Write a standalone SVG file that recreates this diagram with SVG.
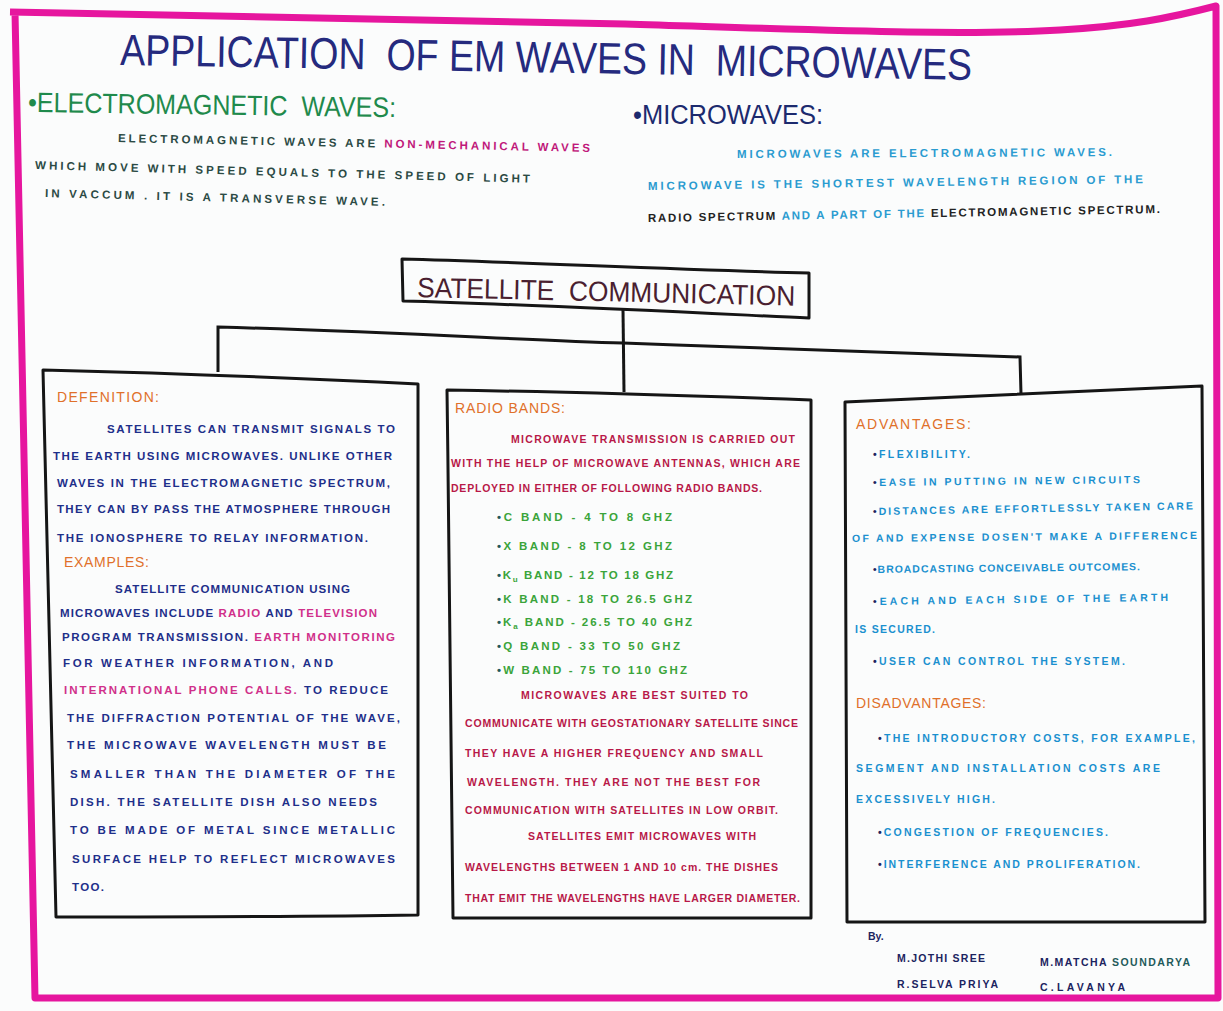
<svg xmlns="http://www.w3.org/2000/svg" width="1223" height="1011" viewBox="0 0 1223 1011">
<style>
text{font-family:"Liberation Sans","DejaVu Sans",sans-serif}
.b{font-size:11.5px;font-weight:bold}
.s{font-size:10.5px;font-weight:bold}
.h{font-size:14px;fill:#e0702a}
.box{fill:none;stroke:#151515;stroke-width:3;stroke-linejoin:round}
.con{fill:none;stroke:#151515;stroke-width:3}
.nv{fill:#1e2f8a}
.pk{fill:#d0308a}
.cr{fill:#b81848}
.gr{fill:#3aa43a}
.tl{fill:#1f5a5a}
.bl{fill:#1a90cf}
.dk{fill:#1c2460}
.mg{fill:#c0187a}
.em{fill:#2b4a44}
.mb{fill:#2a9bd0}
.k{fill:#222}
</style>
<rect width="1223" height="1011" fill="#fbfcfc"/>
<g id="border">
<path d="M10,12 C200,14 400,18 625,24 C820,30 960,36 1060,30 C1130,26 1170,18 1216,6 L1218,998 L35,998 C28,700 22,400 15,12" fill="none" stroke="#e6169e" stroke-width="7" stroke-linejoin="round"/>
</g>
<g id="title">
<text x="120" y="65" font-size="44" fill="#252a7e" textLength="852" lengthAdjust="spacingAndGlyphs" transform="rotate(1 120 65)" xml:space="preserve">APPLICATION  OF EM WAVES IN  MICROWAVES</text>
</g>
<g id="em-section">
<text x="28" y="112" font-size="28" fill="#1f8a4c" textLength="368" lengthAdjust="spacingAndGlyphs" transform="rotate(0.8 28 112)" xml:space="preserve">•ELECTROMAGNETIC  WAVES:</text>
<text class="b" x="118" y="142" textLength="472" transform="rotate(1.2 118 142)"><tspan class="em">ELECTROMAGNETIC WAVES ARE </tspan><tspan class="mg">NON-MECHANICAL WAVES</tspan></text>
<text class="b em" x="35" y="169" textLength="495" transform="rotate(1.6 35 169)">WHICH MOVE WITH SPEED EQUALS TO THE SPEED OF LIGHT</text>
<text class="b em" x="45" y="197" textLength="340" transform="rotate(1.5 45 197)">IN VACCUM . IT IS A TRANSVERSE WAVE.</text>
</g>
<g id="mw-section">
<text x="633" y="124" font-size="27" fill="#1c2a6e" textLength="190" lengthAdjust="spacingAndGlyphs">•MICROWAVES:</text>
<text class="b mb" x="737" y="158" textLength="375" transform="rotate(-0.3 737 158)">MICROWAVES ARE ELECTROMAGNETIC WAVES.</text>
<text class="b mb" x="648" y="190" textLength="495" transform="rotate(-0.8 648 190)">MICROWAVE IS THE SHORTEST WAVELENGTH REGION OF THE</text>
<text class="b" x="648" y="222" textLength="512" transform="rotate(-1 648 222)"><tspan class="k">RADIO SPECTRUM</tspan><tspan class="mb"> AND A PART OF THE </tspan><tspan class="k">ELECTROMAGNETIC SPECTRUM.</tspan></text>
</g>
<g id="connectors">
<path class="con" d="M623,310 L624,392"/>
<path class="con" d="M218,372 L218,327 C400,332 520,340 623,343 C760,348 900,352 1020,357 L1021,394"/>
</g>
<g id="sat-comm">
<path class="box" d="M402,259 C520,262 680,270 809,273 L809,318 C680,312 520,304 403,301 Z"/>
<text x="417" y="297" font-size="28" fill="#4a1f30" textLength="378" lengthAdjust="spacingAndGlyphs" transform="rotate(1.3 417 297)" xml:space="preserve">SATELLITE  COMMUNICATION</text>
</g>
<g id="box-definition">
<path class="box" d="M43,370 C160,373 300,378 418,384 L418,915 C300,917 150,917 56,917 C52,700 46,500 43,370 Z"/>
<text class="h" x="57" y="402" textLength="102">DEFENITION:</text>
<text class="b nv" x="107" y="433" textLength="288">SATELLITES CAN TRANSMIT SIGNALS TO</text>
<text class="b nv" x="53" y="460" textLength="339">THE EARTH USING MICROWAVES. UNLIKE OTHER</text>
<text class="b nv" x="57" y="487" textLength="333">WAVES IN THE ELECTROMAGNETIC SPECTRUM,</text>
<text class="b nv" x="57" y="513" textLength="333">THEY CAN BY PASS THE ATMOSPHERE THROUGH</text>
<text class="b nv" x="57" y="542" textLength="311">THE IONOSPHERE TO RELAY INFORMATION.</text>
<text class="h" x="64" y="567" textLength="85">EXAMPLES:</text>
<text class="b nv" x="115" y="593" textLength="235">SATELLITE COMMUNICATION USING</text>
<text class="b" x="60" y="617" textLength="317"><tspan class="nv">MICROWAVES INCLUDE </tspan><tspan class="pk">RADIO</tspan><tspan class="nv"> AND </tspan><tspan class="pk">TELEVISION</tspan></text>
<text class="b" x="62" y="641" textLength="333"><tspan class="nv">PROGRAM TRANSMISSION. </tspan><tspan class="pk">EARTH MONITORING</tspan></text>
<text class="b nv" x="63" y="667" textLength="270">FOR WEATHER INFORMATION, AND</text>
<text class="b" x="64" y="694" textLength="324"><tspan class="pk">INTERNATIONAL PHONE CALLS.</tspan><tspan class="nv"> TO REDUCE</tspan></text>
<text class="b nv" x="67" y="722" textLength="333">THE DIFFRACTION POTENTIAL OF THE WAVE,</text>
<text class="b nv" x="67" y="749" textLength="319">THE MICROWAVE WAVELENGTH MUST BE</text>
<text class="b nv" x="70" y="778" textLength="325">SMALLER THAN THE DIAMETER OF THE</text>
<text class="b nv" x="70" y="806" textLength="307">DISH. THE SATELLITE DISH ALSO NEEDS</text>
<text class="b nv" x="70" y="834" textLength="325">TO BE MADE OF METAL SINCE METALLIC</text>
<text class="b nv" x="72" y="863" textLength="323">SURFACE HELP TO REFLECT MICROWAVES</text>
<text class="b nv" x="72" y="891" textLength="32">TOO.</text>
</g>
<g id="box-radio-bands">
<path class="box" d="M447,390 C580,392 700,396 811,400 L811,918 C700,918 560,918 453,918 C452,700 449,550 447,390 Z"/>
<text class="h" x="455" y="413" textLength="110">RADIO BANDS:</text>
<text class="s cr" x="511" y="443" textLength="284">MICROWAVE TRANSMISSION IS CARRIED OUT</text>
<text class="s cr" x="451" y="467" textLength="349">WITH THE HELP OF MICROWAVE ANTENNAS, WHICH ARE</text>
<text class="s cr" x="451" y="492" textLength="311">DEPLOYED IN EITHER OF FOLLOWING RADIO BANDS.</text>
<text class="b" x="497" y="521" textLength="175"><tspan class="tl">•</tspan><tspan class="gr">C BAND - 4 TO 8 GHZ</tspan></text>
<text class="b" x="497" y="550" textLength="175"><tspan class="tl">•</tspan><tspan class="gr">X BAND - 8 TO 12 GHZ</tspan></text>
<text class="b" x="497" y="579" textLength="176"><tspan class="tl">•</tspan><tspan class="gr">K</tspan><tspan class="gr" font-size="8" dy="3">u</tspan><tspan class="gr" dy="-3"> BAND - 12 TO 18 GHZ</tspan></text>
<text class="b" x="497" y="603" textLength="195"><tspan class="tl">•</tspan><tspan class="gr">K BAND - 18 TO 26.5 GHZ</tspan></text>
<text class="b" x="497" y="626" textLength="195"><tspan class="tl">•</tspan><tspan class="gr">K</tspan><tspan class="gr" font-size="8" dy="3">a</tspan><tspan class="gr" dy="-3"> BAND - 26.5 TO 40 GHZ</tspan></text>
<text class="b" x="497" y="650" textLength="183"><tspan class="tl">•</tspan><tspan class="gr">Q BAND - 33 TO 50 GHZ</tspan></text>
<text class="b" x="497" y="674" textLength="190"><tspan class="tl">•</tspan><tspan class="gr">W BAND - 75 TO 110 GHZ</tspan></text>
<text class="s cr" x="521" y="699" textLength="227">MICROWAVES ARE BEST SUITED TO</text>
<text class="s cr" x="465" y="727" textLength="333">COMMUNICATE WITH GEOSTATIONARY SATELLITE SINCE</text>
<text class="s cr" x="465" y="757" textLength="298">THEY HAVE A HIGHER FREQUENCY AND SMALL</text>
<text class="s cr" x="467" y="786" textLength="293">WAVELENGTH. THEY ARE NOT THE BEST FOR</text>
<text class="s cr" x="465" y="814" textLength="313">COMMUNICATION WITH SATELLITES IN LOW ORBIT.</text>
<text class="s cr" x="528" y="840" textLength="228">SATELLITES EMIT MICROWAVES WITH</text>
<text class="s cr" x="465" y="871" textLength="313">WAVELENGTHS BETWEEN 1 AND 10 cm. THE DISHES</text>
<text class="s cr" x="465" y="902" textLength="335">THAT EMIT THE WAVELENGTHS HAVE LARGER DIAMETER.</text>
</g>
<g id="box-advantages">
<path class="box" d="M845,402 C960,397 1080,392 1202,386 L1205,922 C1080,922 960,922 847,922 C846,700 845,550 845,402 Z"/>
<text class="h" x="856" y="429" textLength="115">ADVANTAGES:</text>
<text class="s" x="873" y="458" textLength="97"><tspan class="dk">•</tspan><tspan class="bl">FLEXIBILITY.</tspan></text>
<text class="s" x="873" y="486" textLength="267" transform="rotate(-0.6 873 486)"><tspan class="dk">•</tspan><tspan class="bl">EASE IN PUTTING IN NEW CIRCUITS</tspan></text>
<text class="s" x="873" y="515" textLength="320" transform="rotate(-1 873 515)"><tspan class="dk">•</tspan><tspan class="bl">DISTANCES ARE EFFORTLESSLY TAKEN CARE</tspan></text>
<text class="s bl" x="852" y="542" textLength="345" transform="rotate(-0.5 852 542)">OF AND EXPENSE DOSEN'T MAKE A DIFFERENCE</text>
<text class="s" x="873" y="573" textLength="267" transform="rotate(-0.6 873 573)"><tspan class="dk">•</tspan><tspan class="bl">BROADCASTING CONCEIVABLE OUTCOMES.</tspan></text>
<text class="s" x="873" y="605" textLength="295" transform="rotate(-0.8 873 605)"><tspan class="dk">•</tspan><tspan class="bl">EACH AND EACH SIDE OF THE EARTH</tspan></text>
<text class="s bl" x="855" y="633" textLength="80">IS SECURED.</text>
<text class="s" x="873" y="665" textLength="252"><tspan class="dk">•</tspan><tspan class="bl">USER CAN CONTROL THE SYSTEM.</tspan></text>
<text class="h" x="856" y="708" textLength="130">DISADVANTAGES:</text>
<text class="s" x="878" y="742" textLength="317"><tspan class="dk">•</tspan><tspan class="bl">THE INTRODUCTORY COSTS, FOR EXAMPLE,</tspan></text>
<text class="s bl" x="856" y="772" textLength="304">SEGMENT AND INSTALLATION COSTS ARE</text>
<text class="s bl" x="856" y="803" textLength="139">EXCESSIVELY HIGH.</text>
<text class="s" x="878" y="836" textLength="230"><tspan class="dk">•</tspan><tspan class="bl">CONGESTION OF FREQUENCIES.</tspan></text>
<text class="s" x="878" y="868" textLength="262"><tspan class="dk">•</tspan><tspan class="bl">INTERFERENCE AND PROLIFERATION.</tspan></text>
</g>
<g id="credits">
<text class="s dk" x="868" y="940">By.</text>
<text class="s dk" x="897" y="962" textLength="88">M.JOTHI SREE</text>
<text class="s dk" x="897" y="988" textLength="101">R.SELVA PRIYA</text>
<text class="s" x="1040" y="966" textLength="150"><tspan class="dk">M.MATCHA </tspan><tspan class="tl">SOUNDARYA</tspan></text>
<text class="s dk" x="1040" y="991" textLength="85">C.LAVANYA</text>
</g>
</svg>
